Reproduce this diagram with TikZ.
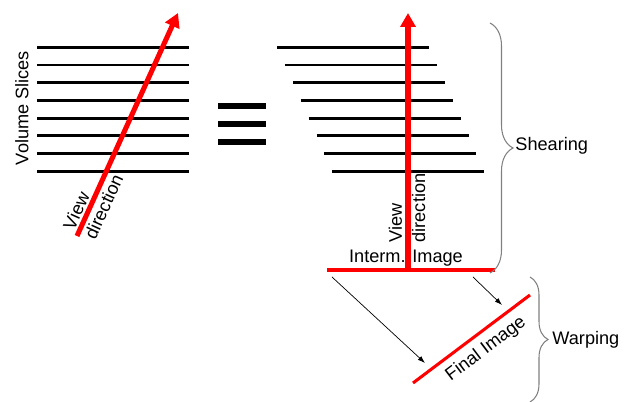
\documentclass[tikz,border=0pt]{standalone}
\usepackage{fontspec}
\setmainfont{Liberation Sans}
\usetikzlibrary{arrows.meta,decorations.pathreplacing}
\begin{document}
\begin{tikzpicture}[x=0.03cm,y=-0.03cm,font=\fontsize{15.5}{20}\selectfont,
  slice/.style={line width=2.5pt},
  eqbar/.style={line width=4.4pt},
  viewray/.style={red,line width=4.3pt,-{Triangle[length=0.42cm,width=0.45cm]}},
  imgline/.style={red,line width=2.6pt},
  warparrow/.style={line width=0.6pt,-{Latex[length=0.22cm,width=0.15cm]}},
  bracket/.style={gray,line width=0.9pt,decorate}]
 \useasboundingbox (0,0) rectangle (633,402);
 % volume slices
 \foreach \i in {0,...,7} \draw[slice] (37,47.3+17.7*\i) -- (189,47.3+17.7*\i);
 \node[rotate=90] (vol) at (22,108) {Volume Slices};
 \coordinate (lv0) at (77,236);
 \coordinate (lv1) at (178,13);
 \draw[viewray] (lv0) -- (lv1);
 \node[rotate=65.6,align=left] (lvd) at (93,202) {View\\direction};
 % equals sign
 \foreach \y in {106,124,142} \draw[eqbar] (218,\y) -- (266,\y);
 % sheared slices
 \foreach \i in {0,...,7} \draw[slice] (277+7.9*\i,47.3+17.7*\i) -- (429+7.9*\i,47.3+17.7*\i);
 \node (interm) at (406,258) {Interm. Image};
 \coordinate (im0) at (327,270);
 \coordinate (im1) at (495,270);
 \draw[imgline] (im0) -- (im1);
 \coordinate (rv0) at (408,268);
 \coordinate (rv1) at (408,13);
 \draw[viewray] (rv0) -- (rv1);
 \node[rotate=90,align=left] (rvd) at (407,208) {View\\direction};
 % warping
 \coordinate (fi0) at (413,383);
 \coordinate (fi1) at (530,295);
 \draw[imgline] (fi0) -- (fi1);
 \node[rotate=37] (final) at (486,349) {Final Image};
 \coordinate (a0) at (332,277);
 \coordinate (a1) at (425,363);
 \coordinate (b0) at (473,277);
 \coordinate (b1) at (502,305);
 \draw[warparrow] (a0) -- (a1);
 \draw[warparrow] (b0) -- (b1);
 % braces
 \coordinate (sh0) at (490,23);
 \coordinate (sh1) at (490,273);
 \draw[bracket,decoration={brace,amplitude=0.69cm}] (sh0) -- (sh1);
 \node[anchor=west,inner sep=1pt] (shear) at (514,146) {Shearing};
 \coordinate (wa0) at (530,277);
 \coordinate (wa1) at (530,402);
 \draw[bracket,decoration={brace,amplitude=0.54cm}] (wa0) -- (wa1);
 \node[anchor=west,inner sep=1pt] (warp) at (551,340) {Warping};
\end{tikzpicture}
\end{document}
